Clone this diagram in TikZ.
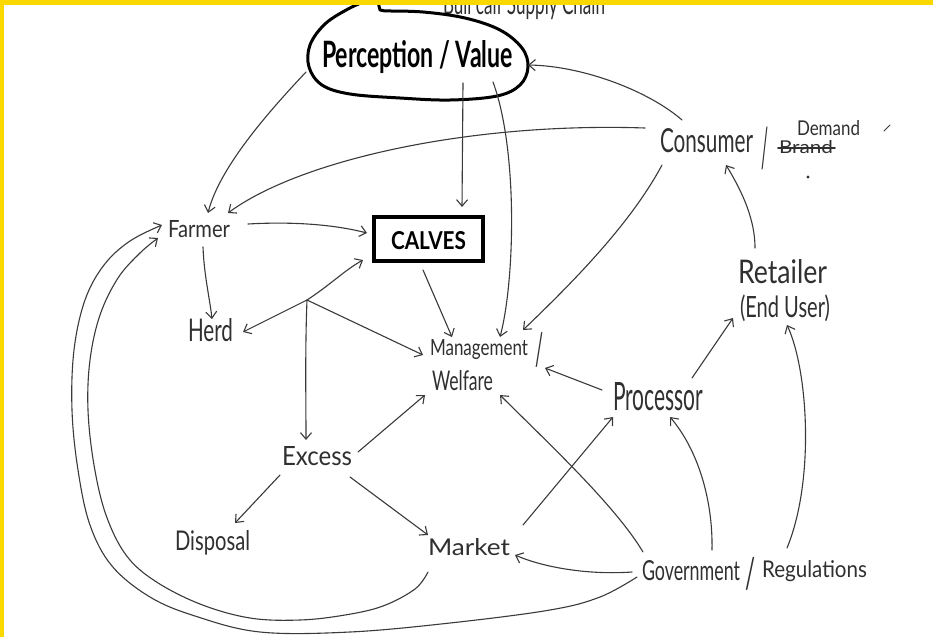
\documentclass[tikz,border=0pt]{standalone}
\usepackage{fontspec}
\setmainfont{Lato}
\usepackage{graphicx}
\usetikzlibrary{arrows.meta}
\definecolor{ink}{HTML}{303030}
\definecolor{pen}{HTML}{3A3A3A}
\definecolor{frameyellow}{RGB}{250,216,0}
% text squeezed into a box of given width and height (in pt)
\newcommand\fitbox[3]{\resizebox{#1pt}{#2pt}{#3}}
% same, with the height counting the depth too
\newcommand\fitboxt[3]{\resizebox*{#1pt}{#2pt}{#3}}
\begin{document}
\begin{tikzpicture}[x=1pt,y=-1pt,
  lbl/.style={inner sep=0pt,outer sep=0pt,anchor=base west,text=ink},
  conn/.style={draw=pen,line width=1.1pt,line cap=round,line join=round,
    -{Straight Barb[length=6.5pt,width=11pt,line width=1.1pt]}},
  wire/.style={draw=pen,line width=1.1pt,line cap=round}]
\useasboundingbox (0,0) rectangle (933,637);
\fill[white] (0,0) rectangle (933,637);

% ---- labels ----
\node[lbl] (title) at (443,14) {\fitbox{162}{22}{Bull calf Supply Chain}};
\node[lbl,text=black,font=\bfseries] (perc) at (322,67) {\fitbox{191}{27}{Perception / Value}};
\node[draw=black,line width=4pt,minimum width=109pt,minimum height=44pt,
      inner sep=0pt,outer sep=0pt,font=\bfseries] (calves) at (428.5,239)
      {\rule{0pt}{22pt}\fitbox{75}{18}{CALVES}};
\node[lbl] (farmer) at (168,237) {\fitbox{62}{17}{Farmer}};
\node[lbl] (herd) at (188,341) {\fitbox{45}{23}{Herd}};
\node[lbl] (consumer) at (660,152) {\fitbox{93}{24}{Consumer}};
\node[lbl,anchor=south west] (slashc) at (761,170) {\fitboxt{7}{43}{/}};
\node[lbl] (brand) at (779,153) {\fitbox{54}{13}{Brand}};
\node[lbl] (demand) at (797,135) {\fitbox{63}{15}{Demand}};
\node[lbl] (mgmt) at (430,355) {\fitbox{98}{16}{Management}};
\node[lbl,anchor=south west] (slashm) at (535,368) {\fitboxt{8}{35}{/}};
\node[lbl] (welfare) at (432,390) {\fitbox{61}{20}{Welfare}};
\node[lbl] (processor) at (613,410) {\fitbox{90}{28}{Processor}};
\node[lbl] (retailer) at (738,283) {\fitbox{89}{24}{Retailer}};
\node[lbl,anchor=south west] (enduser) at (740,322) {\fitboxt{90}{27}{(End User)}};
\node[lbl] (excess) at (282,465) {\fitbox{70}{19}{Excess}};
\node[lbl] (disposal) at (175,550) {\fitbox{75}{20}{Disposal}};
\node[lbl] (market) at (428,555) {\fitbox{82}{17}{Market}};
\node[lbl] (govt) at (642,580) {\fitbox{98}{20}{Government}};
\node[lbl,anchor=south west] (slashg) at (745,590) {\fitboxt{10}{33}{/}};
\node[lbl] (regs) at (762,577) {\fitbox{105}{17}{Regulations}};

% crossed-out word
\draw[ink,line width=1.8pt,line cap=round]
  ([shift={(-1,-5)}]brand.base west) -- ([shift={(56,-5)}]brand.base west);

% ---- outline round Perception / Value ----
\draw[black,line width=3pt,line cap=round,line join=round]
  plot[smooth,tension=0.6] coordinates {(366,1) (348,9) (325,24) (310,45) (309,67)
    (322,85) (350,94) (400,98) (450,100) (497,96) (520,85) (528,67) (522,48)
    (500,30) (465,18) (423,12) (385,11)}
  -- (380,10) -- (378,2);

% ---- connectors ----
\coordinate (split) at (307,300);

\draw[conn] ([shift={(-16,5)}]perc.base west) .. controls (275,105) and (220,165) ..
  ([shift={(40,-24)}]farmer.base west);
\draw[conn] ([shift={(-15,-24)}]consumer.base west) .. controls (470,122) and (300,160) ..
  ([shift={(60,-24)}]farmer.base west);
\draw[conn] ([shift={(141,16)}]perc.base west) -- ([shift={(33.5,-32)}]calves.center);
\draw[conn] ([shift={(171,15)}]perc.base west) .. controls (518,150) and (515,280) ..
  ([shift={(70,-18)}]mgmt.base west);
\draw[conn] ([shift={(-5.5,31)}]calves.center) -- ([shift={(22,-18)}]mgmt.base west);
\draw[conn] ([shift={(80,-13)}]farmer.base west) .. controls (300,221) and (340,226) ..
  ([shift={(-61.5,-6)}]calves.center);
\draw[conn] ([shift={(35,10)}]farmer.base west) .. controls (204,275) and (210,300) ..
  ([shift={(24,-22)}]herd.base west);

\draw[conn] (split) .. controls (330,285) and (345,270) .. ([shift={(-65.5,21)}]calves.center);
\draw[conn] (split) -- ([shift={(55,-9)}]herd.base west);
\draw[conn] (split) -- ([shift={(-7,0)}]mgmt.base west);
\draw[conn] (split) .. controls (305,350) and (306,400) .. ([shift={(24,-25)}]excess.base west);

\draw[conn] ([shift={(76,-13)}]excess.base west) -- ([shift={(-7,5)}]welfare.base west);
\draw[conn] ([shift={(-2,10)}]excess.base west) -- ([shift={(60,-27)}]disposal.base west);
\draw[conn] ([shift={(68,12)}]excess.base west) -- ([shift={(0,-20)}]market.base west);
\draw[conn] ([shift={(95,-30)}]market.base west) -- ([shift={(0,7)}]processor.base west);
\draw[conn] ([shift={(-11,-20)}]processor.base west) -- ([shift={(115,13)}]mgmt.base west);
\draw[conn] ([shift={(79,-32)}]processor.base west) -- ([shift={(-7,-4)}]enduser.south west);
\draw[conn] ([shift={(17,-35)}]retailer.base west) .. controls (755,215) and (738,185) ..
  ([shift={(66,13)}]consumer.base west);
\draw[conn] ([shift={(22,-32)}]consumer.base west) .. controls (650,92) and (585,66) ..
  ([shift={(206,-2)}]perc.base west);
\draw[conn] ([shift={(2,13)}]consumer.base west) .. controls (630,225) and (570,285) ..
  ([shift={(93,-25)}]mgmt.base west);

\draw[conn] ([shift={(-10,-8)}]govt.base west) .. controls (590,575) and (545,568) ..
  ([shift={(87,0)}]market.base west);
\draw[conn] ([shift={(1,-28)}]govt.base west) .. controls (615,505) and (545,440) ..
  ([shift={(68,5)}]welfare.base west);
\draw[conn] ([shift={(70,-30)}]govt.base west) .. controls (713,500) and (698,450) ..
  ([shift={(57,7)}]processor.base west);
\draw[conn] ([shift={(25,-29)}]regs.base west) .. controls (815,480) and (808,370) ..
  ([shift={(47,3)}]enduser.south west);

% long loops back to the farmer
\draw[conn] plot[smooth,tension=0.6] coordinates {([shift={(-5,-3)}]govt.base west)
  (600,597) (550,610) (450,623) (350,632) (260,632) (195,616) (150,597) (112,566)
  (90,525) (78,470) (72,410) (74,350) (85,300) (104,265) (130,241)
  ([shift={(-6,-12)}]farmer.base west)};
\draw[conn] plot[smooth,tension=0.6] coordinates {([shift={(0,17)}]market.base west)
  (415,589) (383,606) (345,615) (300,620) (250,618) (200,604) (155,581) (126,555)
  (106,515) (94,465) (88,410) (90,360) (100,315) (118,278) (140,253)
  ([shift={(-10,1)}]farmer.base west)};

% small pen marks
\fill[ink] (808,177) circle (1.6);
\draw[pen,line width=0.8pt,line cap=round] (884,131) -- (890,125);

% yellow edge
\fill[frameyellow] (0,0) rectangle (933,5);
\fill[frameyellow] (0,0) rectangle (4,637);
\end{tikzpicture}
\end{document}
